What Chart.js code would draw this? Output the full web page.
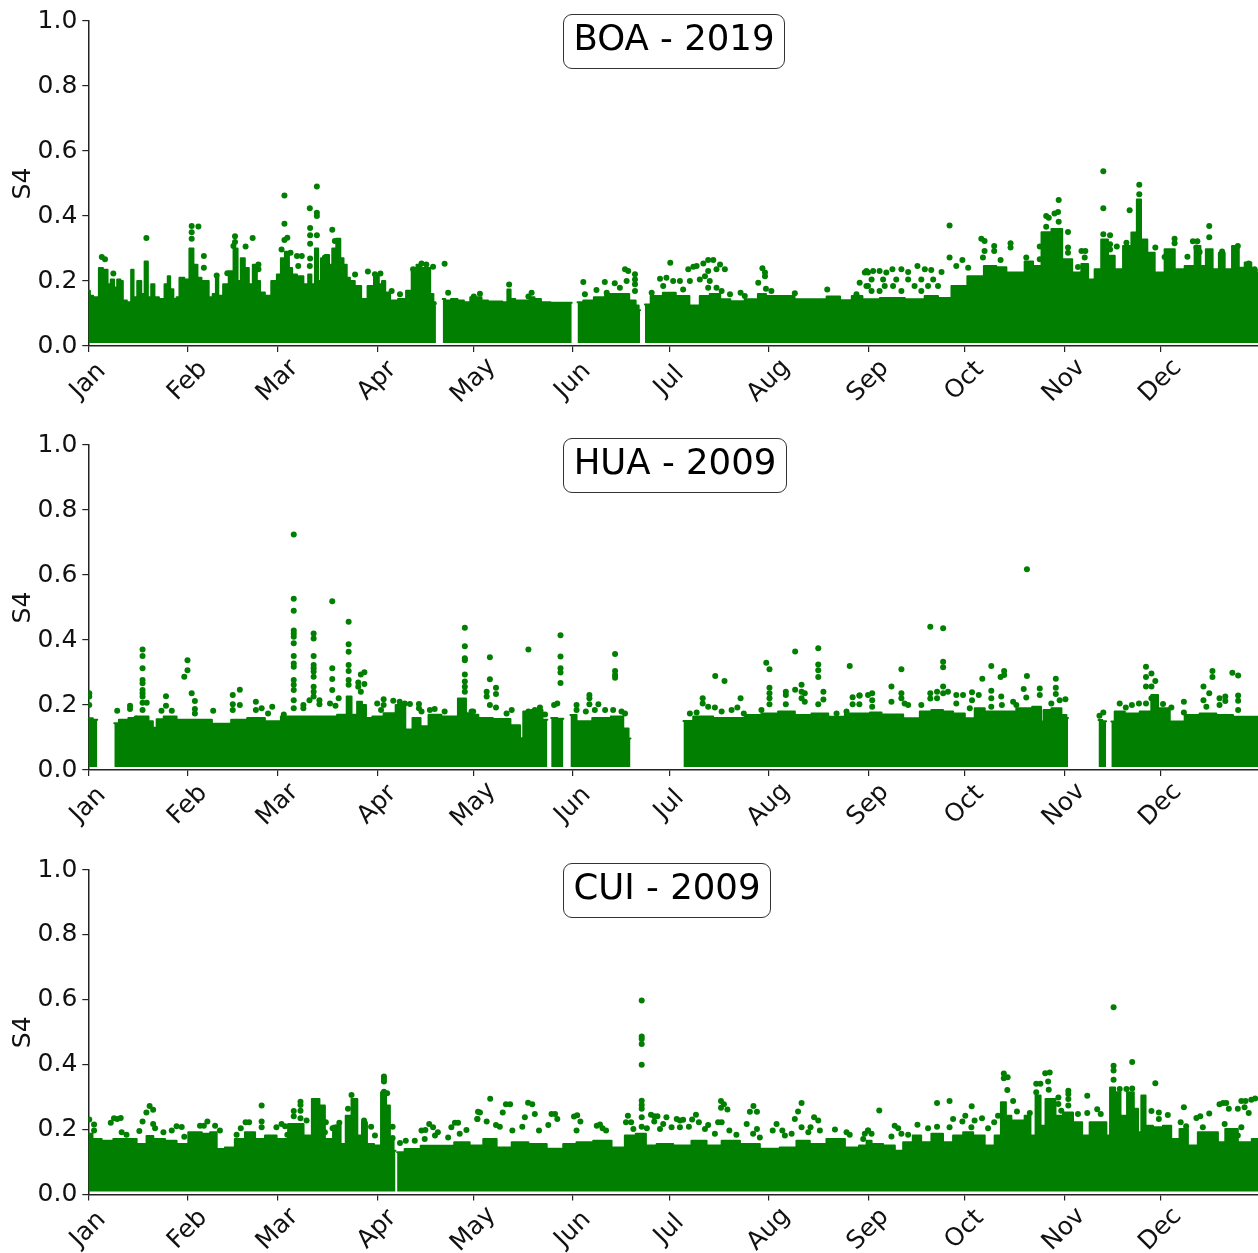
<!DOCTYPE html>
<html>
<head>
<meta charset="utf-8">
<script src="https://cdn.jsdelivr.net/npm/chart.js@4"></script>
<style>
html,body{margin:0;padding:0;background:#fff;width:1258px;height:1253px;overflow:hidden}
canvas{position:absolute;left:0;display:block;filter:blur(.35px)}
.t{position:absolute;box-sizing:border-box;border:1.5px solid #333;border-radius:9px;background:#fff;font:35.5px "DejaVu Sans";color:#000;text-align:center;white-space:nowrap;z-index:2;filter:blur(.35px)}
</style>
</head>
<body>
<canvas id="c0" width="1262" height="424" style="top:0"></canvas>
<canvas id="c1" width="1262" height="424" style="top:424px"></canvas>
<canvas id="c2" width="1262" height="404" style="top:849px"></canvas>
<div class="t" style="left:563px;top:14px;width:222px;height:55px;line-height:46px">BOA - 2019</div>
<div class="t" style="left:563px;top:438px;width:224px;height:55px;line-height:46px">HUA - 2009</div>
<div class="t" style="left:563px;top:863px;width:208px;height:55px;line-height:46px">CUI - 2009</div>
<script>
const monthLabels=["Jan","Feb","Mar","Apr","May","Jun","Jul","Aug","Sep","Oct","Nov","Dec"];
const monthStarts=[0,31,59,90,120,151,181,212,243,273,304,334];
const yTicks=[0,0.2,0.4,0.6,0.8,1.0];

const boaMass=[[0,.17],[1,.155],[2,.15],[3,.15],[3.6,.24],[5.5,.235],[6.5,.19],[7.5,.205],[8.5,.18],[9.5,.205],[10.5,.2],[11,.14],[13,.135],[13.7,.235],[14.5,.15],[16,.2],[17,.16],[18.1,.26],[19,.15],[20.2,.19],[21,.15],[23,.145],[24.5,.19],[25,.215],[26,.175],[27,.145],[28,.15],[28.8,.21],[31,.205],[32,.3],[33.5,.25],[34.5,.21],[36,.2],[37,.2],[38,.15],[39.5,.16],[40,.21],[41,.155],[43,.19],[44.5,.23],[46,.3],[47,.2],[48,.27],[49.5,.24],[50.5,.19],[52,.25],[53,.2],[54,.165],[56,.155],[58,.2],[59.5,.22],[60.5,.27],[62,.29],[63,.24],[64,.22],[66,.215],[68,.19],[69,.22],[70,.19],[71.2,.3],[72,.2],[73,.27],[74.5,.28],[75.5,.25],[76.5,.3],[78,.33],[79,.27],[80,.25],[81,.21],[82,.2],[84,.185],[86,.145],[88,.185],[90,.22],[91,.19],[92,.2],[93,.165],[95,.14],[98,.145],[100,.17],[101.5,.24],[103,.25],[104.5,.24],[106,.24],[107,.16],[108,.135],[108.3,.13],[108.4,null],
[110.4,.145],[112,.14],[114,.145],[116,.14],[118,.135],[120,.15],[122,.15],[123,.14],[126,.137],[128,.137],[130,.135],[131.1,.174],[132,.145],[134,.14],[137,.14],[138,.15],[140,.145],[142,.135],[146,.133],[150.6,.133],[150.7,null],
[152.4,.135],[156,.14],[159,.15],[163,.16],[167,.16],[170,.14],[171,.125],[171.9,.11],[172,null],
[173.4,.128],[177,.154],[181,.164],[185,.154],[189.5,.125],[191.5,.154],[195.7,.16],[198,.144],[202,.138],[207,.144],[210.2,.16],[212,.154],[217,.154],[223,.144],[228,.144],[232,.152],[236.4,.141],[239.3,.154],[243,.144],[250.2,.148],[258.5,.144],[262.6,.154],[266.8,.148],[271,.185],[276.7,.215],[281.3,.246],[284.4,.242],[287.6,.226],[290.7,.226],[292.7,.26],[295.9,.246],[298,.35],[302.1,.36],[304.7,.267],[308.3,.226],[310.4,.252],[312.5,.205],[314.5,.236],[316.6,.328],[318.7,.278],[320.8,.236],[323.9,.308],[326,.349],[327.3,.451],[328.6,.328],[331.2,.287],[333.2,.226],[337.4,.298],[339.5,.236],[343.6,.246],[345.7,.308],[347.2,.246],[349.1,.298],[351.4,.236],[353,.287],[355,.236],[357.6,.308],[359.2,.241],[361.3,.257],[363.3,.236],[364.7,.225]];
const boaDots=[[4.2,.274],[5.2,.267],[7.8,.223],[18.1,.332],[32.2,.369],[32.2,.35],[32.2,.33],[34.3,.368],[36,.277],[36,.241],[40,.217],[45.7,.338],[45.7,.32],[45.2,.308],[49,.306],[51.2,.332],[53,.251],[53,.236],[43.3,.224],[61.1,.463],[61.1,.376],[62,.333],[61.1,.326],[60.2,.297],[63,.287],[65,.277],[66.5,.277],[65.4,.246],[69,.246],[69,.424],[71.2,.491],[71.2,.41],[71.2,.4],[69.1,.363],[69.1,.341],[71.2,.341],[69.1,.315],[69.1,.269],[76,.358],[73.7,.272],[76.8,.323],[83.1,.22],[87.1,.229],[89.3,.221],[91,.223],[94.5,.169],[97.1,.159],[101.2,.236],[103.8,.254],[105.3,.251],[107.4,.244],[102.2,.215],[104.3,.215],[111,.253],[112.1,.164],
[131.1,.189],[122,.161],[120.1,.152],[138.1,.164],[137.1,.152],[154.2,.197],[154.7,.159],[158.3,.172],[160.9,.197],[164,.193],[161.5,.164],[167.2,.236],[168.2,.231],[170.3,.221],[170.3,.205],[170.3,.19],[170.3,.169],[167.7,.2],[165.6,.179],[181.3,.256],[178.1,.207],[180.1,.21],[175.5,.164],[179.1,.185],[182.2,.2],[184.3,.2],[186.9,.236],[188.5,.244],[189.5,.246],[187.4,.2],[185.3,.174],[190.5,.205],[191.6,.254],[193.1,.265],[194.7,.265],[196.8,.251],[198.3,.236],[195.7,.236],[193.1,.231],[192.1,.215],[193.6,.2],[193.1,.179],[195.7,.179],[197.3,.169],[199.9,.159],[203.2,.164],[204.5,.154],[210,.239],[210.8,.226],[210.8,.215],[208.7,.195],[211.1,.176],[212.8,.169],[220.1,.162],[230.2,.174],[241.9,.226],[242.9,.226],[240.3,.195],[242.4,.185],[239.3,.159],
[242.4,.231],[244.5,.231],[246.5,.231],[248.6,.226],[250.5,.236],[253.3,.236],[255.4,.228],[258.3,.246],[260.6,.236],[262.6,.234],[265.8,.228],[244,.205],[247.6,.205],[251.7,.205],[255.4,.205],[259.5,.205],[263.2,.205],[242.9,.185],[248.1,.185],[250.7,.185],[257.4,.185],[261.6,.185],[264.7,.185],[244,.169],[246.5,.169],[253.3,.169],[259.5,.169],
[268.3,.371],[268.3,.272],[270.4,.246],[272.3,.265],[274.1,.241],[278.2,.33],[279.2,.323],[279.2,.292],[278.7,.272],[282.2,.308],[282.2,.292],[284.2,.265],[287.3,.316],[287.3,.303],[292.2,.272],[296.4,.306],[296.4,.267],[298.4,.4],[299.2,.395],[298.4,.367],[302.3,.449],[302.1,.412],[301,.408],[302.3,.382],[305.2,.351],[305.2,.303],[305.2,.287],[309.4,.292],[310.6,.292],[310.4,.272],[308.3,.243],[316.2,.538],[316.2,.424],[316.2,.344],[318.3,.341],[318.3,.313],[320.4,.306],[318.3,.297],[324.4,.418],[327.4,.496],[327.4,.467],[323.4,.318],[332.4,.303],[335.3,.274],[338.4,.33],[338.4,.316],[342.4,.275],[344.1,.322],[345.5,.322],[345.2,.303],[346.2,.289],[349.2,.369],[349.2,.335],[353.2,.291],[353.2,.277],[358.1,.308],[357.3,.295],[361.5,.254],[363.3,.236]];

const huaMass=[[0,.159],[2.8,.155],[2.9,null],
[8.1,.144],[11,.155],[14,.16],[17.5,.165],[20,.15],[20.2,.12],[20.6,.13],[22,.156],[25,.165],[30,.155],[35,.155],[42,.142],[47,.155],[52,.16],[58,.15],[62,.165],[68,.165],[75,.165],[80,.17],[81,.226],[83,.17],[84.5,.21],[86,.2],[87,.16],[90,.165],[94,.175],[97.5,.2],[100,.125],[102,.16],[105,.135],[107,.17],[113,.165],[117.3,.22],[118,.175],[120,.17],[123,.16],[129,.157],[134,.138],[135,.098],[136,.18],[140,.185],[143,.155],[143.1,null],
[144.2,.16],[148,.158],[148.1,null],
[150.2,.169],[154,.15],[160,.16],[165.6,.165],[167.7,.128],[168.9,.097],[169,null],
[185.4,.151],[191.5,.165],[197.8,.16],[202,.16],[207.1,.169],[212.3,.174],[217.5,.18],[222.7,.169],[227.9,.174],[233.1,.164],[238.3,.174],[243,.174],[244,.177],[250.2,.171],[257.5,.159],[260.6,.18],[264.7,.185],[267.8,.18],[271,.174],[275.1,.159],[277.2,.19],[281.3,.18],[286.5,.18],[291.7,.19],[296.4,.195],[297.2,.149],[298,.185],[302.1,.19],[304.2,.169],[305.2,.16],[305.3,null],
[314.7,.154],[317.1,.15],[317.2,null],
[318.7,.149],[320.8,.18],[325,.174],[330.1,.18],[332.2,.231],[334.3,.19],[339.5,.149],[343.6,.169],[348.8,.174],[354,.169],[359.2,.164],[364.7,.164]];
const huaDots=[[16.9,.371],[16.9,.351],[16.9,.313],[16.9,.277],[16.9,.267],[16.9,.246],[16.9,.236],[16.9,.226],[16.9,.207],[16.9,.185],[.3,.236],[.3,.226],[.3,.2],[9,.182],[13,.198],[13,.188],[15,.159],[18.2,.207],[24.2,.227],[24.2,.198],[22.8,.182],[26,.182],[29.9,.287],[30.9,.338],[30.9,.307],[32.2,.236],[33.2,.212],[33.2,.188],[33.2,.174],[38.9,.182],[45,.231],[45,.202],[45,.185],[47.2,.247],[47.2,.2],[52.2,.21],[52.2,.185],[54,.19],[57.3,.195],[56,.174],[60.9,.171],
[64,.725],[64,.527],[64,.49],[64,.429],[64,.42],[64,.41],[64,.39],[64,.351],[64,.328],[64,.318],[64,.277],[64,.262],[64,.246],[64,.215],[64,.19],[67,.2],[67,.19],[70.2,.42],[70.2,.405],[70.2,.351],[70.2,.323],[70.2,.313],[70.2,.303],[70.2,.287],[70.2,.256],[70.2,.241],[70.2,.226],[68.9,.215],[72,.215],[72,.202],[76,.519],[76,.313],[76,.28],[76,.246],[78,.221],[75.3,.205],[77,.198],[81.1,.456],[81.1,.387],[81.1,.364],[81.1,.323],[81.1,.305],[81.1,.277],[81.1,.262],[84.9,.294],[86,.301],[86,.265],[84.1,.269],[84.1,.256],[84.9,.241],[90,.205],[92,.218],[92,.2],[91.2,.185],[95,.213],[97,.21],[98.6,.205],[100.2,.203],[103,.203],[103,.19],[103.8,.18],[106.4,.185],[107.9,.188],[111,.18],[117.3,.438],[117.3,.381],[117.3,.344],[117.3,.338],[117.3,.294],[117.3,.272],[117.3,.256],[117.3,.241],[119.4,.18],
[125.1,.347],[125.1,.279],[124.1,.241],[124.1,.226],[127,.253],[127,.234],[125.1,.2],[127,.192],[119.9,.18],[131.9,.185],[130.3,.174],[137.1,.371],[137.1,.18],[139.1,.185],[140.7,.192],[142.3,.171],[145.1,.2],[146.1,.205],[147.1,.415],[147.1,.349],[147.1,.313],[147.1,.3],[147.1,.268],[152.1,.2],[152.1,.185],[156.1,.231],[156.1,.221],[156.1,.202],[158.9,.202],[157.8,.185],[161,.185],[155,.18],[164.1,.357],[164.1,.305],[164.1,.292],[164.1,.284],[163.5,.185],[166.1,.18],[167.2,.174],
[187.4,.174],[189.5,.177],[191.4,.221],[191.4,.205],[193.1,.195],[195.2,.192],[197.3,.18],[195.3,.289],[198.2,.274],[203.2,.221],[202.2,.192],[200.4,.185],[204.2,.174],[211.2,.33],[212.2,.31],[212.2,.253],[212.2,.236],[212.2,.221],[212.2,.202],[209.7,.185],[217.3,.241],[217.3,.231],[217.3,.202],[220.2,.365],[220.2,.247],[222.2,.262],[222.2,.241],[222.2,.221],[223.2,.236],[223.2,.21],[227.4,.375],[227.4,.325],[227.4,.307],[227.4,.286],[227.4,.202],[229,.241],[229,.217],[237.2,.32],[238.1,.224],[238.1,.202],[240.2,.229],[240.2,.202],[236.2,.18],[233.1,.174],[242.9,.231],
[240.3,.229],[244.2,.236],[244.2,.215],[244.2,.195],[250.2,.257],[250.2,.21],[253.3,.31],[253.3,.236],[253.3,.221],[254.3,.205],[255.4,.2],[262.3,.441],[262.3,.236],[262.3,.22],[259.5,.2],[264.4,.241],[264.4,.221],[266.3,.436],[266.3,.333],[266.3,.316],[266.3,.257],[266.3,.236],[267.8,.241],[270.4,.231],[270.4,.205],[272.5,.231],[274.6,.19],[275.3,.239],[275.3,.215],[277.4,.231],[278.5,.281],[281.3,.32],[281.3,.244],[281.3,.221],[281.3,.195],[284.4,.226],[284.2,.286],[285.3,.305],[285.3,.292],[284.6,.2],[288.1,.21],[292.4,.618],[292.4,.289],[291.4,.249],[292.2,.223],[289.1,.2],[296.4,.251],[296.4,.231],[301.4,.281],[301.4,.253],[301.4,.234],[304.4,.218],[302.6,.215],[300,.205],[316.2,.177],[315,.167],
[321.3,.205],[323.2,.192],[325.1,.2],[327.3,.205],[329.5,.318],[329.5,.286],[329.5,.257],[331.2,.297],[331.2,.257],[332.4,.274],[331.2,.221],[329.5,.205],[334.8,.203],[337.4,.192],[341.3,.21],[341.3,.177],[347.4,.257],[347.4,.215],[348.3,.195],[349.2,.236],[350.2,.305],[350.2,.286],[352.4,.221],[352.4,.2],[354.2,.226],[354.2,.212],[356.4,.299],[358.2,.291],[358.2,.229],[358.2,.213],[358.2,.185]];

const cuiMass=[[0,.187],[2.6,.171],[5.7,.166],[9.9,.171],[13,.171],[17.1,.156],[19.2,.18],[21.3,.171],[26.5,.166],[28.5,.156],[33.8,.192],[36.9,.187],[39,.192],[41,.14],[44.1,.145],[47.2,.171],[50.4,.192],[53.5,.171],[56.6,.182],[60.7,.171],[63.8,.217],[66.1,.217],[68,.182],[71.3,.294],[72.7,.274],[74.7,.171],[77.8,.212],[79.4,.156],[81,.243],[83,.294],[84.6,.182],[85.9,.223],[87.7,.156],[90.3,.151],[92.1,.315],[93.4,.274],[94.5,.171],[95.7,.135],[95.75,null],
[96.2,.13],[100.9,.14],[106.2,.15],[111.4,.15],[116.6,.161],[121,.151],[125.1,.171],[129.3,.145],[134.5,.161],[139.7,.156],[145.9,.141],[150,.156],[154.2,.161],[160.4,.166],[165.6,.145],[168.7,.182],[172.4,.187],[175,.151],[179.1,.156],[185.3,.151],[190.5,.166],[194.7,.151],[199.9,.166],[206.1,.156],[212.3,.141],[218.5,.145],[222.7,.166],[226.8,.156],[233.1,.171],[238.3,.145],[241.9,.151],[243,.166],[245,.156],[250.2,.151],[252.3,.135],[255.4,.161],[258.3,.182],[260.6,.161],[264.7,.187],[267.8,.161],[271,.182],[274.1,.192],[277.2,.182],[281.3,.151],[283.4,.182],[285.2,.284],[286.5,.243],[288.6,.228],[290.7,.228],[292.7,.243],[294.3,.182],[295.9,.305],[297.4,.212],[299,.294],[300.5,.294],[302.1,.243],[305.2,.253],[308.3,.223],[310.9,.182],[313,.223],[316.6,.223],[317.7,.182],[318.9,.33],[320.8,.315],[322.3,.243],[324.9,.315],[326.5,.264],[327.5,.192],[328.6,.305],[330.1,.212],[333.2,.207],[336.3,.212],[338.4,.171],[341.5,.202],[343.6,.151],[347.7,.192],[351.4,.192],[352.4,.161],[356,.202],[360.2,.161],[364.7,.171]];
const cuiDots=[[.3,.231],[1.8,.216],[1.8,.197],[7,.221],[8,.235],[9,.233],[10.1,.236],[10.4,.192],[11.9,.184],[15.9,.196],[16.9,.225],[18.1,.253],[19.1,.273],[20.2,.261],[20.2,.217],[20.8,.204],[23.4,.192],[26,.197],[27.5,.21],[29.1,.208],[29.9,.178],[34.8,.212],[36,.212],[37.1,.225],[39.5,.212],[41,.197],[46.2,.184],[47.5,.204],[49,.223],[50.1,.223],[54,.274],[54,.225],[54,.207],[58.6,.207],[60.2,.217],[61.3,.21],[62,.184],[64,.257],[64,.241],[66.1,.286],[66.1,.276],[66.1,.258],[66.1,.235],[68,.228],[74,.223],[73.7,.192],[76.1,.204],[77.3,.207],[78.2,.221],[82,.307],[80.9,.264],[85.9,.228],[88.1,.209],[89.3,.182],[92.1,.364],[92.1,.356],[92.1,.348],[92.1,.317],[93.1,.312],[94.8,.209],[94.8,.174],[97.1,.159],[98.9,.166],[101.7,.166],[103.8,.197],[105,.199],[106.2,.217],[107.4,.207],[108.9,.192],[108,.182],[104.8,.171],[113.1,.207],[114.2,.221],[115.2,.221],[112.1,.176],[115.7,.187],[117.8,.199],[121.4,.255],[121.2,.233],
[172.4,.598],[172.4,.487],[172.4,.479],[172.4,.464],[172.4,.4],[172.4,.289],[172.4,.276],[172.4,.264],[172.4,.238],[172.4,.209],[125.2,.295],[130.1,.278],[131.4,.278],[129.1,.253],[122,.253],[121.2,.233],[124.1,.225],[127,.214],[128.2,.209],[132.1,.197],[137,.283],[138.3,.278],[139.1,.248],[136,.238],[135.2,.209],[140.4,.197],[144.3,.248],[145.4,.248],[146.1,.233],[143.3,.214],[151.3,.24],[152.3,.244],[153.3,.225],[152.1,.197],[158.4,.212],[159.4,.216],[160.2,.204],[161.3,.197],[168.1,.243],[167.5,.223],[169.1,.223],[169.8,.202],[175.3,.246],[176.3,.241],[177.3,.241],[176.3,.225],[174,.204],[180.1,.238],[179.1,.217],[178.1,.202],[183.3,.233],[184.3,.228],[185.3,.23],[181.7,.207],[184.3,.207],[187.1,.209],[188.1,.231],[189.3,.246],[190.2,.223],[193.1,.214],[192.1,.202],[195.2,.187],[196.2,.223],[197.3,.223],[197.1,.288],[198,.278],[197.1,.267],[199.1,.262],[199.7,.197],[201.9,.184],[205.1,.217],[206.1,.255],[207.2,.273],[208.3,.255],[208.3,.202],[207.1,.187],[209.2,.176],[214.4,.217],[213.2,.197],[216.2,.197],[217,.182],[219.1,.187],[220.1,.233],[221.1,.256],[222.2,.282],[222.2,.207],[224.3,.192],[225,.207],[226.1,.238],[227.4,.228],[227.9,.197],[232.6,.2],[236.2,.192],[237.2,.184],[241.9,.187],[242.9,.197],
[246.4,.259],[242.9,.197],[241.4,.171],[244,.187],[250.2,.179],[251.2,.212],[252.3,.204],[253.3,.187],[255.4,.184],[258.3,.215],[261.6,.204],[264.4,.282],[264.4,.209],[268.3,.288],[269.4,.233],[268.3,.207],[272.3,.225],[273.2,.243],[275.2,.272],[276.1,.228],[275.1,.207],[278.4,.235],[280.3,.204],[282.2,.223],[283.4,.243],[285.2,.373],[285.2,.358],[286.4,.361],[286.3,.322],[288.1,.288],[289.3,.256],[293.3,.251],[295.3,.341],[296.6,.341],[295.3,.315],[298.1,.374],[299.5,.376],[299,.348],[299.2,.323],[302.2,.299],[302.2,.279],[303.1,.258],[305.3,.32],[305.3,.31],[305.3,.294],[305.3,.274],[311.2,.304],[311.2,.251],[308.3,.248],[314.3,.263],[315.4,.248],[319.4,.577],[319.4,.397],[319.4,.382],[319.4,.354],[321.3,.325],[323.4,.325],[325.2,.408],[325.2,.327],[332.4,.343],[331.2,.257],[333.5,.253],[333.5,.233],[336.3,.245],[341.3,.269],[340.3,.223],[342,.21],[345.2,.236],[346.4,.241],[349.2,.25],[347.2,.207],[352.4,.278],[353.5,.282],[354.5,.282],[355.3,.264],[354,.217],[359.2,.288],[360.5,.288],[358.1,.264],[360.2,.269],[361.5,.251],[362.3,.292],[363.5,.296],[359.2,.207],[358.1,.182]];

const floorS4=0.009;
const GREEN="#007f00", AXIS="#222";

const centerLabels={id:"centerLabels",beforeDraw(chart){
  const s=chart.scales.x;
  s.getLabelItems().forEach((it,i)=>{
    it.options.textAlign="center";
    it.options.textBaseline="middle";
    it.options.translation=[s.getPixelForTick(i),s.top+35];
    it.textOffset=0;
  });
}};

function toPts(list){return list.map(p=>({x:p[0],y:p[1]}));}

function panel(id,plotH,mass,dots){
  const canvas=document.getElementById(id);
  new Chart(canvas,{
    type:"scatter",
    data:{datasets:[
      {label:"S4 dense",data:toPts(mass),showLine:true,stepped:"middle",spanGaps:false,borderColor:GREEN,backgroundColor:GREEN,borderWidth:2,borderCapStyle:"round",borderJoinStyle:"round",pointRadius:0,fill:{value:floorS4}},
      {label:"S4",data:toPts(dots),showLine:false,backgroundColor:GREEN,borderColor:GREEN,borderWidth:0,pointRadius:3,pointHoverRadius:3}
    ]},
    plugins:[centerLabels],
    options:{
      responsive:false,animation:false,
      layout:{padding:{left:0,right:0,top:21,bottom:0}},
      plugins:{legend:{display:false},title:{display:false},tooltip:{enabled:false}},
      scales:{
        x:{type:"linear",min:0,max:364.7,
          grid:{drawOnChartArea:false,drawTicks:true,tickLength:6,color:AXIS,lineWidth:1.2},
          border:{display:true,color:AXIS,width:1.5},
          ticks:{autoSkip:false,minRotation:45,maxRotation:45,color:"#111",font:{family:"DejaVu Sans",size:25},
            callback:(v,i)=>monthLabels[i]},
          afterBuildTicks:s=>{s.ticks=monthStarts.map(v=>({value:v}));},
          afterFit:s=>{s.height=canvas.height-21-plotH;s.paddingLeft=0;s.paddingRight=0;}
        },
        y:{type:"linear",min:0,max:1,
          grid:{drawOnChartArea:false,drawTicks:true,tickLength:6,color:AXIS,lineWidth:1.2},
          border:{display:true,color:AXIS,width:1.5},
          ticks:{color:"#111",padding:5,font:{family:"DejaVu Sans",size:25},callback:v=>v.toFixed(1)},
          afterBuildTicks:s=>{s.ticks=yTicks.map(v=>({value:v}));},
          title:{display:true,text:"S4",color:"#111",font:{family:"DejaVu Sans",size:25},padding:{top:8,bottom:0}},
          afterFit:s=>{s.width=88.3;s.paddingTop=0;s.paddingBottom=0;}
        }
      }
    }
  });
}
panel("c0",325,boaMass,boaDots);
panel("c1",325,huaMass,huaDots);
panel("c2",324.5,cuiMass,cuiDots);
</script>
</body>
</html>
